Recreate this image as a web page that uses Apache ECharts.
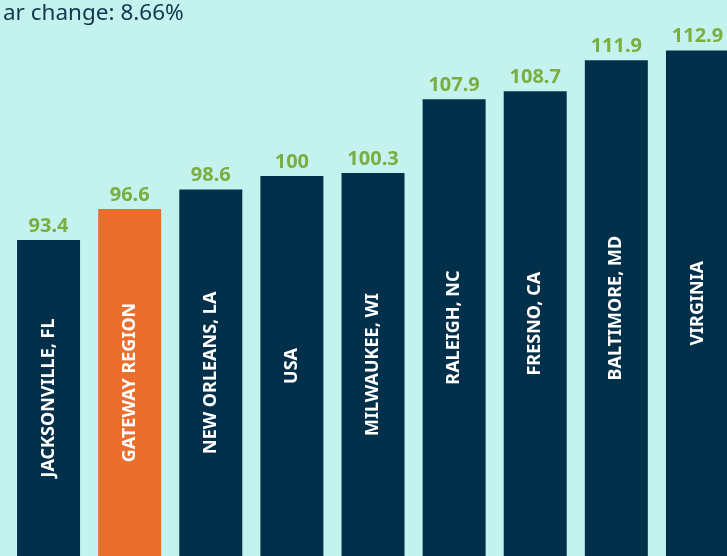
<!DOCTYPE html>
<html>
<head>
<meta charset="utf-8">
<script src="https://cdn.jsdelivr.net/npm/echarts@6/dist/echarts.min.js"></script>
<style>
html,body{margin:0;padding:0;background:#c4f3ef;}
#chart{width:727px;height:556px;}
</style>
</head>
<body>
<div id="chart"></div>
<script>
const categories = ["JACKSONVILLE, FL","GATEWAY REGION","NEW ORLEANS, LA","USA","MILWAUKEE, WI","RALEIGH, NC","FRESNO, CA","BALTIMORE, MD","VIRGINIA"];
const values = [93.4, 96.6, 98.6, 100, 100.3, 107.9, 108.7, 111.9, 112.9];
const highlight = "GATEWAY REGION";
const titleText = "ar change: 8.66%";

const chart = echarts.init(document.getElementById('chart'), null, {renderer:'canvas'});
chart.setOption({
  backgroundColor: '#c4f3ef',
  animation: false,
  title: {
    text: titleText,
    left: -2, top: -3,
    textStyle: {fontFamily: 'Noto Sans', fontWeight: 'normal', fontSize: 22.5, color: '#12364d'}
  },
  grid: {left: 8, top: 0, width: 730, height: 556, outerBoundsMode: 'none', containLabel: false},
  xAxis: {
    type: 'category', data: categories, show: false
  },
  yAxis: {type: 'value', min: 60.9, max: 118.1, show: false},
  series: [{
    type: 'bar',
    barWidth: 63,
    data: values.map((v, i) => ({
      value: v,
      itemStyle: {color: categories[i] === highlight ? '#ea6e2e' : '#02304a'}
    })),
    label: {
      show: true,
      position: 'top',
      distance: 4,
      formatter: p => String(values[p.dataIndex]),
      fontFamily: 'Noto Sans', fontWeight: 'bold', fontSize: 20, color: '#7aae41'
    }
  }, {
    type: 'bar',
    barWidth: 63,
    barGap: '-100%',
    data: values,
    itemStyle: {color: 'transparent'},
    label: {
      show: true,
      position: 'inside',
      rotate: 90,
      formatter: p => categories[p.dataIndex],
      fontFamily: 'Noto Sans', fontWeight: 'bold', fontSize: 18, color: '#ffffff'
    },
    z: 3
  }]
});
</script>
</body>
</html>
